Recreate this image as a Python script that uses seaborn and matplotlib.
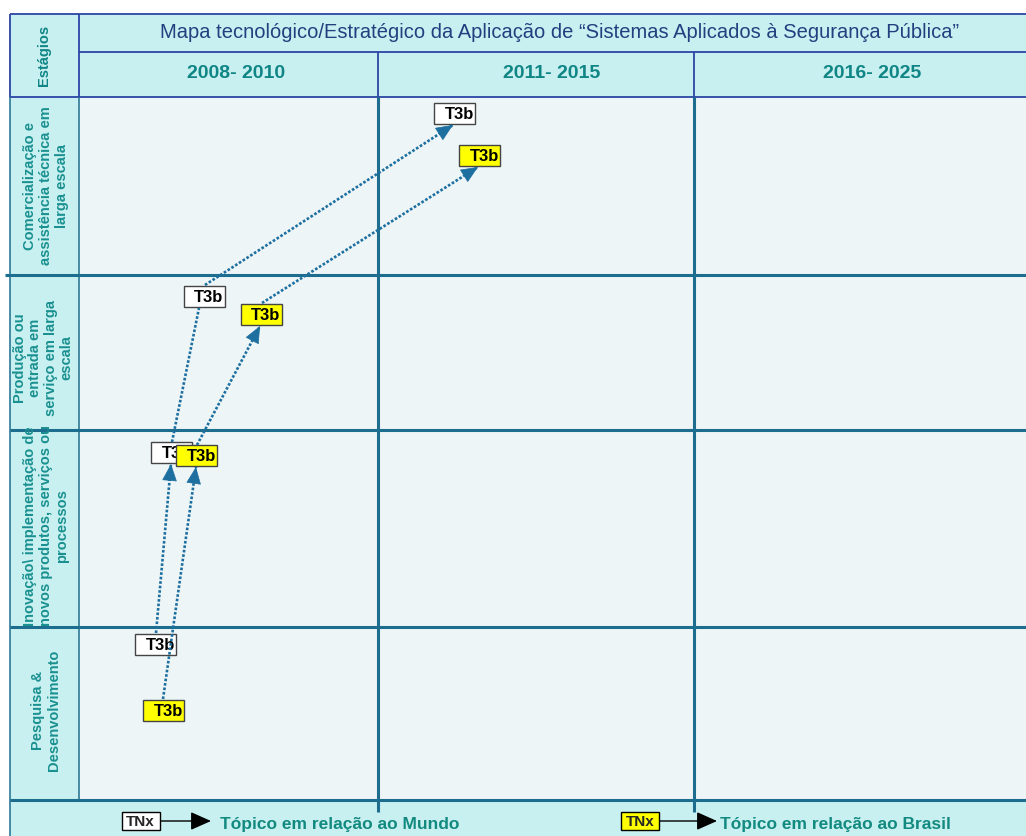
"""Roadmap chart: Sistemas Aplicados a Seguranca Publica."""

import matplotlib.pyplot as plt
import seaborn as sns
from matplotlib.patches import Rectangle

TITLE = "Mapa tecnológico/Estratégico da Aplicação de “Sistemas Aplicados à Segurança Pública”"
PERIODS = ["2008- 2010", "2011- 2015", "2016- 2025"]
PERIOD_TEXT_X = [236, 552, 872]
STAGES = [
    "Comercialização e\nassistência técnica em\nlarga escala",
    "Produção ou\nentrada em\nserviço em larga\nescala",
    "Inovação\\ implementação de\nnovos produtos, serviços ou\nprocessos",
    "Pesquisa &\nDesenvolvimento",
]
STAGE_TEXT_POS = [(46, 186), (43, 358), (46, 526), (46, 710)]

# topic boxes (centre positions on the canvas), ordered top stage -> bottom stage
TOPIC = "T3b"
WORLD_X = [454.5, 204, 171.5, 155.5]
WORLD_Y = [113.5, 296.5, 452.5, 644]
BRAZIL_X = [479.5, 261, 196.5, 163.5]
BRAZIL_Y = [155.5, 314.5, 455.5, 710.5]

# dotted links (start -> end), with / without arrow head
WORLD_LINKS = [((156, 633), (171, 464), True), ((172, 442), (199, 308), False),
               ((205, 285), (453, 125), True)]
BRAZIL_LINKS = [((163, 699), (196, 467), True), ((197, 445), (260, 326), True),
                ((262, 303), (478, 167), True)]

COL_EDGES = [79, 378, 694, 1026]
ROW_EDGES = [97, 275, 430, 627, 800]

CYAN = "#c8f0f0"
BODY = "#edf5f7"
GRID = "#1d6e8e"
BLUE = "#2a45a5"
TEAL = "#0f8585"
LINK = "#1d6fa0"


def topic_box(ax, x, y, color, z, label=TOPIC, w=41, h=21, size=12):
    ax.add_patch(Rectangle((x - w / 2, y - h / 2), w, h, facecolor=color,
                           edgecolor="#444444", linewidth=1.0, zorder=z))
    ax.text(x + w / 2 - 1, y + 1, label, ha="right", va="center", fontsize=size,
            fontweight="bold", color="black", zorder=z + 0.5)


def link(ax, start, end, head):
    ax.plot([start[0], end[0]], [start[1], end[1]], color=LINK, lw=1.9,
            linestyle=(0, (1, 0.7)), zorder=8)
    if head:
        dx, dy = end[0] - start[0], end[1] - start[1]
        n = (dx ** 2 + dy ** 2) ** 0.5
        back = (end[0] - dx / n * 12, end[1] - dy / n * 12)
        ax.annotate("", xy=end, xytext=back,
                    arrowprops=dict(arrowstyle="-|>,head_length=0.8,head_width=0.35",
                                    color=LINK, lw=0.5, shrinkA=0, shrinkB=0,
                                    mutation_scale=14), zorder=9)


def main():
    sns.set_theme(style="white")
    plt.rcParams["font.family"] = ["Liberation Sans", "DejaVu Sans"]

    fig = plt.figure(figsize=(10.26, 8.36), dpi=100)
    ax = fig.add_axes([0, 0, 1, 1])
    ax.set_xlim(0, 1026)
    ax.set_ylim(836, 0)
    ax.axis("off")

    left, right, top, bottom = 10, 1026, 14, 836
    # fills
    ax.add_patch(Rectangle((left, top), right - left, ROW_EDGES[0] - top, facecolor=CYAN, lw=0))
    ax.add_patch(Rectangle((left, ROW_EDGES[0]), COL_EDGES[0] - left, ROW_EDGES[-1] - ROW_EDGES[0],
                           facecolor=CYAN, lw=0))
    ax.add_patch(Rectangle((COL_EDGES[0], ROW_EDGES[0]), right - COL_EDGES[0],
                           ROW_EDGES[-1] - ROW_EDGES[0], facecolor=BODY, lw=0))
    ax.add_patch(Rectangle((left, ROW_EDGES[-1]), right - left, bottom - ROW_EDGES[-1],
                           facecolor=CYAN, lw=0))

    # header lines
    ax.hlines(top, left, right, color=BLUE, lw=1.3)
    ax.hlines(52, COL_EDGES[0], right, color=BLUE, lw=1.3)
    ax.hlines(ROW_EDGES[0], left, right, color=BLUE, lw=1.3)
    ax.vlines([left, COL_EDGES[0]], top, ROW_EDGES[0], color=BLUE, lw=1.3)
    ax.vlines(COL_EDGES[1:3], 52, ROW_EDGES[0], color=BLUE, lw=1.3)

    # body lines
    ax.vlines(left, ROW_EDGES[0], bottom, color=GRID, lw=1.1)
    ax.vlines(COL_EDGES[0], ROW_EDGES[0], ROW_EDGES[-1], color=GRID, lw=1.1)
    ax.vlines(COL_EDGES[1:3], ROW_EDGES[0], 812, color=GRID, lw=2.2)
    ax.hlines(ROW_EDGES[1], 5, right, color=GRID, lw=2.2)
    ax.hlines(ROW_EDGES[2:], left, right, color=GRID, lw=2.2)

    # texts
    ax.text(560, 33, TITLE, ha="center", va="center", fontsize=14.5, color="#22407f")
    for x, period in zip(PERIOD_TEXT_X, PERIODS):
        ax.text(x, 74, period, ha="center", va="center", fontsize=14,
                fontweight="bold", color=TEAL)
    ax.text(44, 55, "Estágios", rotation=90, ha="center", va="center", fontsize=10.5,
            fontweight="bold", color=TEAL)
    for (x, y), stage in zip(STAGE_TEXT_POS, STAGES):
        ax.text(x, y, stage, rotation=90, ha="center", va="center", multialignment="center",
                fontsize=10.5, fontweight="bold", color="#1a9090", linespacing=1.15)

    # topics: world boxes first, Brazil boxes stacked on top of them
    for x, y in zip(WORLD_X, WORLD_Y):
        topic_box(ax, x, y, "white", z=4)
    for x, y in zip(BRAZIL_X, BRAZIL_Y):
        topic_box(ax, x, y, "#ffff00", z=6)
    for start, end, head in WORLD_LINKS + BRAZIL_LINKS:
        link(ax, start, end, head)

    # legend
    for bx, line_end, tx, label, color in [
        (140.5, 211, 220, "Tópico em relação ao Mundo", "white"),
        (640, 717, 720, "Tópico em relação ao Brasil", "#ffff00"),
    ]:
        ax.add_patch(Rectangle((bx - 19, 812), 38, 18, facecolor=color,
                               edgecolor="black", lw=1.0, zorder=4))
        ax.text(bx, 821.5, "TNx", ha="center", va="center", fontsize=11,
                fontweight="bold", zorder=5)
        ax.annotate("", xy=(line_end, 821), xytext=(bx + 19, 821),
                    arrowprops=dict(arrowstyle="-|>,head_length=0.9,head_width=0.4",
                                    color="black", lw=1.0, shrinkA=0, shrinkB=0,
                                    mutation_scale=14))
        ax.text(tx, 824, label, ha="left", va="center", fontsize=12.5,
                fontweight="bold", color="#128a80")

    fig.savefig("out.png", dpi=100)
    plt.close(fig)


if __name__ == "__main__":
    main()
